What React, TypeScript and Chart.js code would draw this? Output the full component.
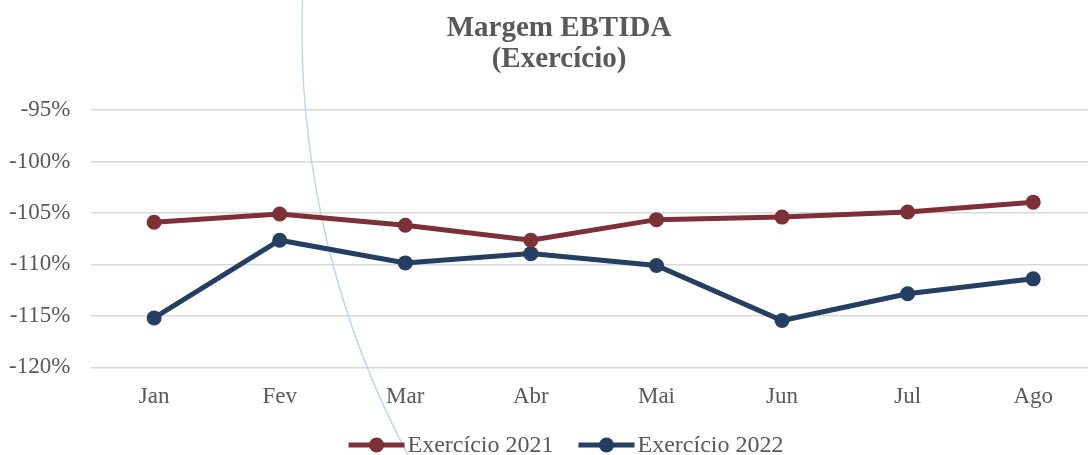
import React, { useEffect, useRef } from "react";
import { Chart, registerables } from "chart.js";

Chart.register(...registerables);

const categories = ["Jan", "Fev", "Mar", "Abr", "Mai", "Jun", "Jul", "Ago"];
const series2021 = [-105.9, -105.1, -106.2, -107.65, -105.65, -105.4, -104.9, -103.95];
const series2022 = [-115.2, -107.65, -109.85, -108.95, -110.1, -115.45, -112.85, -111.4];
const seriesNames = ["Exercício 2021", "Exercício 2022"];
const titleLines = ["Margem EBTIDA", "(Exercício)"];
const yMin = -120;
const yMax = -95;
const yStep = 5;

const RED = "#7D3035";
const BLUE = "#243F61";
const TEXT = "#595959";
const FONT = "'Liberation Serif', 'DejaVu Serif', serif";

const arcPlugin = {
  id: "decorArc",
  beforeDatasetsDraw(chart: any) {
    const ctx = chart.ctx;
    ctx.save();
    ctx.strokeStyle = "rgba(170, 208, 228, 0.85)";
    ctx.lineWidth = 1.4;
    ctx.beginPath();
    ctx.arc(1207, 30, 905, 2.6, 3.2, false);
    ctx.stroke();
    ctx.restore();
  },
};

const titlePlugin = {
  id: "twoLineTitle",
  afterDraw(chart: any) {
    const ctx = chart.ctx;
    ctx.save();
    ctx.font = `bold 29px ${FONT}`;
    ctx.fillStyle = TEXT;
    ctx.textAlign = "center";
    ctx.textBaseline = "alphabetic";
    const cx = 559;
    titleLines.forEach((line, i) => {
      ctx.fillText(line, cx, 36 + i * 31);
    });
    ctx.restore();
  },
};

const legendPlugin = {
  id: "lineLegend",
  afterDraw(chart: any) {
    const ctx = chart.ctx;
    ctx.save();
    ctx.font = `24px ${FONT}`;
    const lineW = 56;
    const gapText = 3;
    const gapItems = 25;
    const items = chart.data.datasets.map((ds: any) => ({
      label: ds.label,
      color: ds.borderColor,
      tw: ctx.measureText(ds.label).width,
    }));
    const total =
      items.reduce((s: number, it: any) => s + lineW + gapText + it.tw, 0) +
      gapItems * (items.length - 1);
    let x = 566 - total / 2;
    const y = 445;
    for (const it of items) {
      ctx.strokeStyle = it.color;
      ctx.lineWidth = 5;
      ctx.beginPath();
      ctx.moveTo(x, y);
      ctx.lineTo(x + lineW, y);
      ctx.stroke();
      ctx.fillStyle = it.color;
      ctx.beginPath();
      ctx.arc(x + lineW / 2, y, 7.5, 0, Math.PI * 2);
      ctx.fill();
      ctx.fillStyle = TEXT;
      ctx.textBaseline = "middle";
      ctx.textAlign = "left";
      ctx.fillText(it.label, x + lineW + gapText, y + 1);
      x += lineW + gapText + it.tw + gapItems;
    }
    ctx.restore();
  },
};

export default function App() {
  const canvasRef = useRef<HTMLCanvasElement | null>(null);

  useEffect(() => {
    document.body.style.margin = "0";
    document.body.style.overflow = "hidden";
    const canvas = canvasRef.current;
    if (!canvas) return;
    const chart = new Chart(canvas, {
      type: "line",
      data: {
        labels: categories,
        datasets: [
          {
            label: seriesNames[0],
            data: series2021,
            borderColor: RED,
            backgroundColor: RED,
            borderWidth: 5,
            pointRadius: 7.5,
            pointHoverRadius: 7.5,
            pointBorderWidth: 0,
            tension: 0,
          },
          {
            label: seriesNames[1],
            data: series2022,
            borderColor: BLUE,
            backgroundColor: BLUE,
            borderWidth: 5,
            pointRadius: 7.5,
            pointHoverRadius: 7.5,
            pointBorderWidth: 0,
            tension: 0,
          },
        ],
      },
      options: {
        animation: false,
        responsive: true,
        maintainAspectRatio: false,
        layout: { padding: { left: -12, right: 22, top: 110, bottom: 28 } },
        plugins: {
          legend: { display: false },
          tooltip: { enabled: false },
          title: { display: false },
        },
        scales: {
          x: {
            offset: true,
            grid: { display: false, drawTicks: false },
            border: { display: false },
            ticks: {
              color: TEXT,
              font: { family: FONT, size: 23 },
              padding: 16,
              maxRotation: 0,
            },
          },
          y: {
            min: yMin,
            max: yMax,
            grid: { color: "#D9D9D9", lineWidth: 1.4, drawTicks: false },
            border: { display: false },
            ticks: {
              stepSize: yStep,
              color: TEXT,
              font: { family: FONT, size: 23 },
              padding: 21,
              callback: (v: any) => `${v}%`,
            },
          },
        },
      },
      plugins: [arcPlugin, titlePlugin, legendPlugin],
    });
    return () => chart.destroy();
  }, []);

  return (
    <div style={{ position: "fixed", left: 0, top: 0, width: 1118, height: 455, background: "#fff" }}>
      <canvas ref={canvasRef} />
    </div>
  );
}
